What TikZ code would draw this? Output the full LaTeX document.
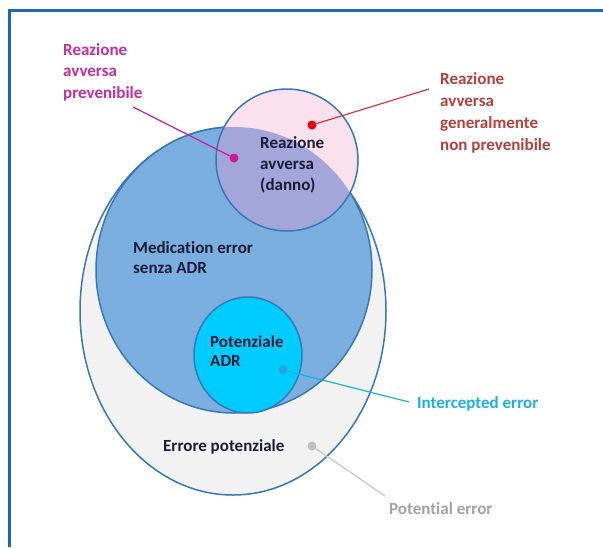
\documentclass[tikz,border=0pt]{standalone}
\usepackage{fontspec}
\setmainfont{Carlito}[Ligatures=NoCommon]
\definecolor{framecol}{HTML}{1F68AE}
\definecolor{edgeblue}{HTML}{3878B6}
\definecolor{grayfill}{HTML}{F2F2F2}
\definecolor{bluefill}{HTML}{7BAFE0}
\definecolor{pinkfill}{HTML}{FBE0EE}
\definecolor{overlapfill}{HTML}{A3A6DB}
\definecolor{cyanfill}{HTML}{00CCFF}
\definecolor{darktext}{HTML}{1C1C38}
\definecolor{magtext}{HTML}{C42E9E}
\definecolor{magdot}{HTML}{D0189A}
\definecolor{redtext}{HTML}{B3403A}
\definecolor{redline}{HTML}{D8363E}
\definecolor{reddot}{HTML}{E8000B}
\definecolor{cyantext}{HTML}{1CB0E2}
\definecolor{cyandot}{HTML}{2AA4DE}
\definecolor{graytext}{HTML}{A3A3A3}
\definecolor{grayline}{HTML}{C8C8C8}
\definecolor{graydot}{HTML}{C0C0C0}
\tikzset{
  lbl/.style={font=\bfseries\fontsize{17}{21.5}\selectfont, align=left, anchor=base west, inner sep=0pt},
  dotmark/.style={circle, inner sep=0pt, minimum size=9pt},
  region/.style={draw=edgeblue, line width=1.5pt},
  leader/.style={line width=1.2pt},
}
\begin{document}
\begin{tikzpicture}[x=1pt,y=-1pt]
\useasboundingbox (0,0) rectangle (603,547);
% frame
\fill[framecol] (8,9) rectangle (603,12);
\fill[framecol] (8,9) rectangle (11,547);
% outer ellipse (potential error)
\fill[grayfill] (233,311) ellipse [x radius=153pt, y radius=184pt];
\draw[region] (233,311) ellipse [x radius=153pt, y radius=184pt];
% medication error ellipse
\fill[bluefill] (234,270) ellipse [x radius=138pt, y radius=143pt];
\draw[region] (234,270) ellipse [x radius=138pt, y radius=143pt];
% adverse reaction circle
\fill[pinkfill] (287,160) circle [radius=71pt];
\begin{scope}
  \clip (234,270) ellipse [x radius=138pt, y radius=143pt];
  \fill[overlapfill] (287,160) circle [radius=71pt];
\end{scope}
\draw[region] (287,160) circle [radius=71pt];
% potential ADR ellipse
\fill[cyanfill] (248,355) ellipse [x radius=54pt, y radius=58pt];
\draw[region] (248,355) ellipse [x radius=54pt, y radius=58pt];

% inner texts (base = baseline of last line)
\node[lbl, text=darktext, font=\bfseries\fontsize{17}{21}\selectfont] (tdanno) at (260,190) {Reazione\\avversa\\(danno)};
\node[lbl, text=darktext, font=\bfseries\fontsize{17}{20}\selectfont] (tmed) at (133,273) {Medication error\\senza ADR};
\node[lbl, text=darktext, font=\bfseries\fontsize{17}{19}\selectfont] (tpot) at (210,366) {Potenziale\\ADR};
\node[lbl, text=darktext] (terr) at (163,451) {Errore potenziale};

% outside labels
\node[lbl, text=magtext] (lmag) at (63,98) {Reazione\\avversa\\prevenibile};
\node[lbl, text=redtext, font=\bfseries\fontsize{17}{21.7}\selectfont] (lred) at (440,150) {Reazione\\avversa\\generalmente\\non prevenibile};
\node[lbl, text=cyantext] (lcyan) at (417,408) {Intercepted error};
\node[lbl, text=graytext] (lgray) at (389,514) {Potential error};

% dots
\node[dotmark, fill=magdot] (dmag) at (234,158) {};
\node[dotmark, fill=reddot] (dred) at (312,125) {};
\node[dotmark, fill=cyandot] (dcyan) at (283,370) {};
\node[dotmark, fill=graydot] (dgray) at (312,446) {};

% leader free ends
\coordinate (emag) at (133,107);
\coordinate (ered) at (429,89);
\coordinate (ecyan) at (409,402);
\coordinate (egray) at (385,496);

\draw[leader, draw=magdot] (emag) -- (dmag);
\draw[leader, draw=redline] (ered) -- (dred);
\draw[leader, draw=cyantext] (ecyan) -- (dcyan);
\draw[leader, draw=grayline] (egray) -- (dgray);
\end{tikzpicture}
\end{document}
